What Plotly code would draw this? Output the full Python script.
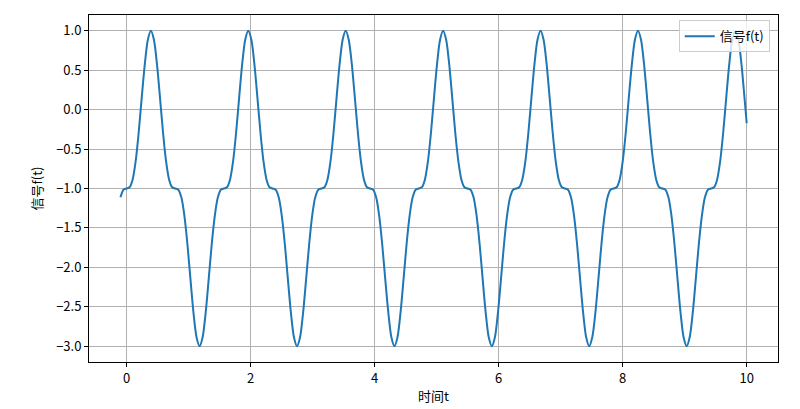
import plotly.graph_objects as go

t = [
    -0.098, -0.049,
    0.000, 0.049, 0.098, 0.147, 0.196, 0.245, 0.295, 0.344, 0.393, 0.442, 0.491, 0.540, 0.589, 0.638, 0.687, 0.736,
    0.785, 0.834, 0.884, 0.933, 0.982, 1.031, 1.080, 1.129, 1.178, 1.227, 1.276, 1.325, 1.374, 1.424, 1.473, 1.522,
    1.571, 1.620, 1.669, 1.718, 1.767, 1.816, 1.865, 1.914, 1.963, 2.013, 2.062, 2.111, 2.160, 2.209, 2.258, 2.307,
    2.356, 2.405, 2.454, 2.503, 2.553, 2.602, 2.651, 2.700, 2.749, 2.798, 2.847, 2.896, 2.945, 2.994, 3.043, 3.093,
    3.142, 3.191, 3.240, 3.289, 3.338, 3.387, 3.436, 3.485, 3.534, 3.583, 3.633, 3.682, 3.731, 3.780, 3.829, 3.878,
    3.927, 3.976, 4.025, 4.074, 4.123, 4.172, 4.222, 4.271, 4.320, 4.369, 4.418, 4.467, 4.516, 4.565, 4.614, 4.663,
    4.712, 4.762, 4.811, 4.860, 4.909, 4.958, 5.007, 5.056, 5.105, 5.154, 5.203, 5.252, 5.301, 5.351, 5.400, 5.449,
    5.498, 5.547, 5.596, 5.645, 5.694, 5.743, 5.792, 5.841, 5.891, 5.940, 5.989, 6.038, 6.087, 6.136, 6.185, 6.234,
    6.283, 6.332, 6.381, 6.431, 6.480, 6.529, 6.578, 6.627, 6.676, 6.725, 6.774, 6.823, 6.872, 6.921, 6.970, 7.020,
    7.069, 7.118, 7.167, 7.216, 7.265, 7.314, 7.363, 7.412, 7.461, 7.510, 7.560, 7.609, 7.658, 7.707, 7.756, 7.805,
    7.854, 7.903, 7.952, 8.001, 8.050, 8.099, 8.149, 8.198, 8.247, 8.296, 8.345, 8.394, 8.443, 8.492, 8.541, 8.590,
    8.639, 8.689, 8.738, 8.787, 8.836, 8.885, 8.934, 8.983, 9.032, 9.081, 9.130, 9.179, 9.228, 9.278, 9.327, 9.376,
    9.425, 9.474, 9.523, 9.572, 9.621, 9.670, 9.719, 9.768, 9.818, 9.867, 9.916, 9.965,
    10.000,
]

f = [
    -1.112, -1.015,
    -1.000, -0.985, -0.888, -0.657, -0.293, 0.150, 0.577, 0.887, 1.000, 0.887, 0.577, 0.150, -0.293, -0.657, -0.888, -0.985,
    -1.000, -1.015, -1.112, -1.343, -1.707, -2.150, -2.577, -2.887, -3.000, -2.887, -2.577, -2.150, -1.707, -1.343, -1.112, -1.015,
    -1.000, -0.985, -0.888, -0.657, -0.293, 0.150, 0.577, 0.887, 1.000, 0.887, 0.577, 0.150, -0.293, -0.657, -0.888, -0.985,
    -1.000, -1.015, -1.112, -1.343, -1.707, -2.150, -2.577, -2.887, -3.000, -2.887, -2.577, -2.150, -1.707, -1.343, -1.112, -1.015,
    -1.000, -0.985, -0.888, -0.657, -0.293, 0.150, 0.577, 0.887, 1.000, 0.887, 0.577, 0.150, -0.293, -0.657, -0.888, -0.985,
    -1.000, -1.015, -1.112, -1.343, -1.707, -2.150, -2.577, -2.887, -3.000, -2.887, -2.577, -2.150, -1.707, -1.343, -1.112, -1.015,
    -1.000, -0.985, -0.888, -0.657, -0.293, 0.150, 0.577, 0.887, 1.000, 0.887, 0.577, 0.150, -0.293, -0.657, -0.888, -0.985,
    -1.000, -1.015, -1.112, -1.343, -1.707, -2.150, -2.577, -2.887, -3.000, -2.887, -2.577, -2.150, -1.707, -1.343, -1.112, -1.015,
    -1.000, -0.985, -0.888, -0.657, -0.293, 0.150, 0.577, 0.887, 1.000, 0.887, 0.577, 0.150, -0.293, -0.657, -0.888, -0.985,
    -1.000, -1.015, -1.112, -1.343, -1.707, -2.150, -2.577, -2.887, -3.000, -2.887, -2.577, -2.150, -1.707, -1.343, -1.112, -1.015,
    -1.000, -0.985, -0.888, -0.657, -0.293, 0.150, 0.577, 0.887, 1.000, 0.887, 0.577, 0.150, -0.293, -0.657, -0.888, -0.985,
    -1.000, -1.015, -1.112, -1.343, -1.707, -2.150, -2.577, -2.887, -3.000, -2.887, -2.577, -2.150, -1.707, -1.343, -1.112, -1.015,
    -1.000, -0.985, -0.888, -0.657, -0.293, 0.150, 0.577, 0.887, 1.000, 0.887, 0.577, 0.150,
    -0.173,
]

x_ticks = [0, 2, 4, 6, 8, 10]
y_ticks = [1.0, 0.5, 0.0, -0.5, -1.0, -1.5, -2.0, -2.5, -3.0]

FONT = "Noto Sans CJK SC, SimHei, sans-serif"

fig = go.Figure()
fig.add_trace(go.Scatter(
    x=t, y=f, mode="lines", name="信号f(t)",
    line=dict(color="#1f77b4", width=2, shape="spline", smoothing=0.8),
))

axis_common = dict(
    showline=True, linecolor="black", linewidth=1, mirror=True,
    ticks="outside", ticklen=4, tickcolor="black", tickwidth=1,
    showgrid=True, gridcolor="#b0b0b0", gridwidth=1,
    zeroline=False, tickfont=dict(size=13, color="black"),
    automargin=False,
)

fig.update_xaxes(
    range=[-0.605, 10.505], tickvals=x_ticks,
    title=dict(text="时间t", font=dict(size=13, color="black"), standoff=6),
    **axis_common,
)
fig.update_yaxes(
    range=[-3.2, 1.2], tickvals=y_ticks, tickformat=".1f",
    title=dict(text="信号f(t)", font=dict(size=13, color="black"), standoff=10),
    **axis_common,
)

fig.update_layout(
    width=800, height=409,
    margin=dict(l=89, r=22, t=15, b=47),
    paper_bgcolor="white", plot_bgcolor="white",
    font=dict(family=FONT, size=13, color="black"),
    showlegend=True,
    legend=dict(
        x=0.988, y=0.985, xanchor="right", yanchor="top",
        bgcolor="rgba(255,255,255,0.8)", bordercolor="#cccccc", borderwidth=1,
        font=dict(size=13), itemwidth=30,
    ),
)

# drop the browser's default body margin so the figure sits at the page corner
fig.write_html(
    "out.html",
    config={"displayModeBar": False},
    post_script="document.body.style.margin='0';",
)
